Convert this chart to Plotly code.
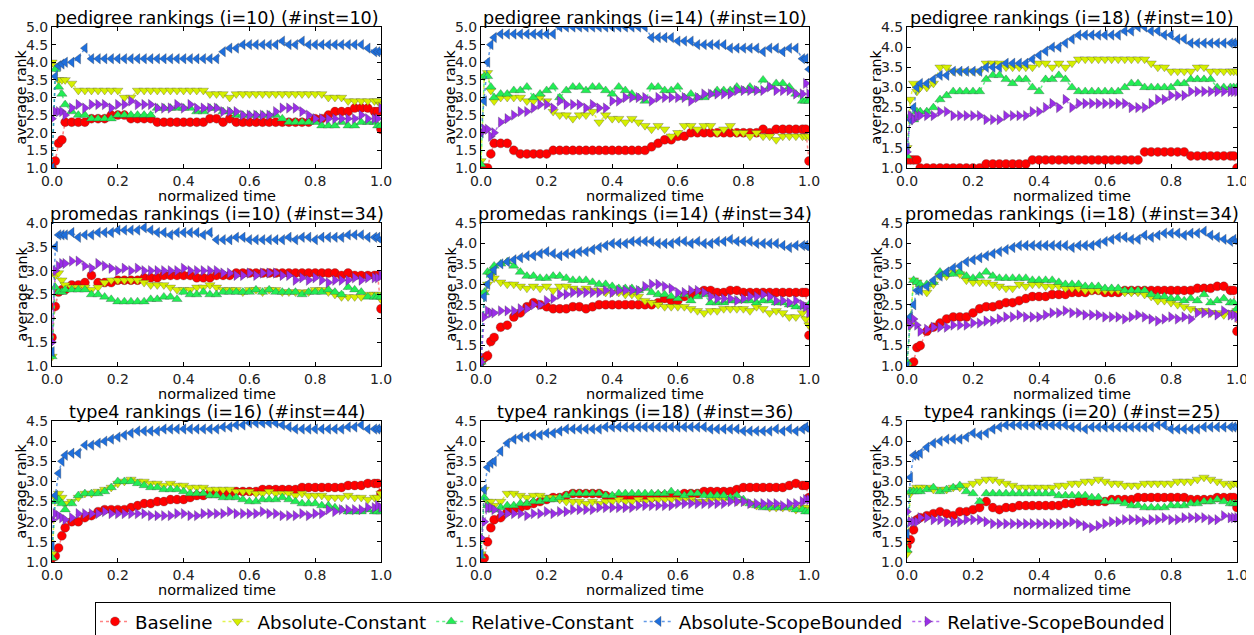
import plotly.graph_objects as go

# ---------------- data ----------------
T = [0.0, 0.01, 0.02, 0.03, 0.04,
     0.06, 0.08, 0.10, 0.12, 0.14, 0.16, 0.18, 0.20, 0.22, 0.24,
     0.26, 0.28, 0.30, 0.32, 0.34, 0.36, 0.38, 0.40, 0.42, 0.44,
     0.46, 0.48, 0.50, 0.52, 0.54, 0.56, 0.58, 0.60, 0.62, 0.64,
     0.66, 0.68, 0.70, 0.72, 0.74, 0.76, 0.78, 0.80, 0.82, 0.84,
     0.86, 0.88, 0.90, 0.92, 0.94, 0.96, 0.98, 0.99, 1.0]

SERIES = ["Baseline", "Absolute-Constant", "Relative-Constant",
          "Absolute-ScopeBounded", "Relative-ScopeBounded"]

TITLES = ["pedigree rankings (i=10) (#inst=10)", "pedigree rankings (i=14) (#inst=10)",
          "pedigree rankings (i=18) (#inst=10)", "promedas rankings (i=10) (#inst=34)",
          "promedas rankings (i=14) (#inst=34)", "promedas rankings (i=18) (#inst=34)",
          "type4 rankings (i=16) (#inst=44)", "type4 rankings (i=18) (#inst=36)",
          "type4 rankings (i=20) (#inst=25)"]
YMAX = [5.0, 5.0, 4.5, 4.0, 4.5, 4.5, 4.5, 4.5, 4.5]
X_TICKS = [0.0, 0.2, 0.4, 0.6, 0.8, 1.0]

# pedigree i=10
p1_base = [1.0,1.2,1.7,1.8,2.3, 2.3,2.3,2.3,2.4,2.4,2.4,2.5,2.5,2.5,2.4, 2.4,2.4,2.4,2.3,2.3,2.3,2.3,2.3,2.3,2.3, 2.3,2.4,2.4,2.3,2.4,2.3,2.3,2.3,2.3,2.3, 2.3,2.3,2.3,2.3,2.3,2.3,2.3,2.4,2.4,2.5, 2.6,2.6,2.6,2.7,2.7,2.7,2.6,2.6,2.1]
p1_absc = [4.0,3.9,3.5,3.5,3.5, 3.4,3.2,3.2,3.2,3.2,3.2,3.2,3.2,3.0,3.0, 3.2,3.2,3.2,3.2,3.2,3.2,3.2,3.2,3.2,3.2, 3.2,3.1,3.1,3.1,3.0,3.1,3.1,3.1,3.1,3.1, 3.1,3.1,3.1,3.1,3.1,3.1,3.1,3.1,3.1,3.0, 3.0,3.0,2.9,2.9,2.9,2.9,2.9,2.9,2.8]
p1_relc = [1.0,3.8,3.3,3.1,2.8, 2.6,2.5,2.5,2.4,2.4,2.4,2.4,2.5,2.5,2.5, 2.5,2.5,2.5,2.7,2.7,2.7,2.7,2.7,2.7,2.6, 2.6,2.7,2.7,2.6,2.6,2.5,2.5,2.5,2.5,2.5, 2.5,2.5,2.4,2.3,2.3,2.3,2.3,2.3,2.2,2.2, 2.2,2.3,2.2,2.2,2.3,2.3,2.3,2.2,2.2]
p1_abss = [1.0,3.6,3.9,3.95,4.0, 4.0,4.1,4.4,4.1,4.1,4.1,4.1,4.1,4.1,4.1, 4.1,4.1,4.1,4.1,4.1,4.1,4.1,4.1,4.1,4.1, 4.1,4.1,4.1,4.3,4.4,4.4,4.5,4.5,4.5,4.5, 4.5,4.5,4.6,4.5,4.5,4.6,4.5,4.5,4.5,4.5, 4.5,4.5,4.5,4.5,4.5,4.4,4.3,4.3,4.3]
p1_rels = [2.4,2.6,2.6,2.6,2.5, 2.7,2.8,2.7,2.8,2.8,2.8,2.7,2.8,2.8,2.9, 2.8,2.8,2.8,2.7,2.7,2.7,2.8,2.7,2.8,2.7, 2.7,2.7,2.7,2.6,2.6,2.6,2.5,2.5,2.5,2.5, 2.5,2.6,2.7,2.7,2.7,2.6,2.5,2.4,2.4,2.4, 2.4,2.4,2.4,2.4,2.5,2.4,2.4,2.4,2.7]

# pedigree i=14
p2_base = [1.0,1.0,1.0,1.4,1.7, 1.7,1.7,1.5,1.4,1.4,1.4,1.4,1.4,1.5,1.5, 1.5,1.5,1.5,1.5,1.5,1.5,1.5,1.5,1.5,1.5, 1.5,1.5,1.5,1.6,1.7,1.8,1.8,1.9,1.9,2.0, 2.0,2.0,2.0,2.0,2.0,2.0,2.0,2.0,2.0,2.0, 2.1,2.0,2.1,2.1,2.1,2.1,2.1,2.1,1.2]
p2_absc = [1.2,3.6,3.7,3.2,2.9, 3.0,3.0,3.0,3.0,2.9,2.9,3.0,2.9,2.6,2.5, 2.5,2.4,2.5,2.5,2.6,2.3,2.5,2.4,2.4,2.3, 2.4,2.3,2.2,2.1,2.2,2.1,1.9,2.0,2.2,2.2, 2.1,2.2,2.2,2.0,2.1,2.2,2.0,2.0,1.9,2.0, 1.9,1.9,1.8,1.9,1.9,1.9,1.9,1.9,1.9]
p2_relc = [1.1,3.6,3.6,3.3,3.0, 3.1,3.1,3.2,3.2,3.3,3.0,3.1,3.2,3.3,3.0, 3.2,3.3,3.3,3.2,3.3,3.3,3.2,3.1,3.3,3.2, 3.1,3.0,2.9,3.3,3.3,3.2,3.2,3.3,3.0,3.1, 3.0,3.0,3.1,3.2,3.2,3.2,3.3,3.2,3.3,3.2, 3.5,3.3,3.4,3.4,3.3,3.1,2.9,2.9,2.9]
p2_abss = [2.0,2.9,4.0,4.5,4.7, 4.8,4.8,4.8,4.8,4.8,4.8,4.8,4.8,4.8,5.0, 5.0,5.0,5.0,5.0,5.0,5.0,5.0,5.0,5.0,5.0, 5.0,5.0,5.0,4.7,4.7,4.7,4.7,4.6,4.6,4.6, 4.5,4.5,4.5,4.5,4.5,4.4,4.4,4.4,4.4,4.4, 4.3,4.4,4.4,4.3,4.4,4.4,4.1,4.1,3.8]
p2_rels = [2.0,2.1,2.1,1.9,2.0, 2.3,2.4,2.5,2.6,2.6,2.7,2.8,2.8,2.7,2.9, 2.8,2.8,2.8,2.7,2.8,2.7,2.7,2.9,2.9,3.0, 3.0,3.0,3.0,2.9,3.0,3.0,3.0,3.0,3.0,2.9, 3.0,3.1,3.1,3.1,3.1,3.1,3.2,3.2,3.2,3.2, 3.2,3.3,3.2,3.2,3.2,3.1,3.1,3.4,3.1]

# pedigree i=18
p3_base = [1.2,1.2,1.2,1.2,1.0, 1.0,1.0,1.0,1.0,1.0,1.0,1.0,1.0,1.0,1.1, 1.1,1.1,1.1,1.1,1.1,1.1,1.2,1.2,1.2,1.2, 1.2,1.2,1.2,1.2,1.2,1.2,1.2,1.2,1.2,1.2, 1.2,1.2,1.2,1.4,1.4,1.4,1.4,1.4,1.4,1.4, 1.3,1.3,1.3,1.3,1.3,1.3,1.3,1.3,1.0]
p3_absc = [1.5,2.7,3.1,2.9,3.0, 3.0,3.1,3.5,3.5,3.4,3.4,3.4,3.4,3.4,3.6, 3.6,3.6,3.5,3.5,3.5,3.5,3.5,3.6,3.6,3.5, 3.6,3.5,3.6,3.7,3.7,3.7,3.7,3.7,3.7,3.7, 3.7,3.7,3.7,3.7,3.6,3.5,3.5,3.4,3.4,3.4, 3.4,3.5,3.5,3.4,3.4,3.4,3.4,3.4,3.4]
p3_relc = [1.3,2.3,2.2,2.4,2.4, 2.4,2.5,2.7,2.8,2.9,2.9,2.9,2.9,2.9,3.2, 3.3,3.3,3.2,3.1,3.2,3.2,3.0,2.9,3.2,3.2, 3.3,3.2,3.0,2.9,2.9,2.9,2.9,2.9,2.9,2.9, 3.0,3.1,3.1,3.0,3.0,3.0,3.0,3.0,3.1,3.1, 3.2,3.2,3.2,3.2,3.0,3.0,3.0,3.0,3.0]
p3_abss = [1.5,2.2,2.5,3.0,3.1, 3.1,3.2,3.3,3.3,3.4,3.4,3.4,3.4,3.4,3.5, 3.5,3.5,3.6,3.6,3.6,3.6,3.7,3.8,3.9,4.0, 4.0,4.1,4.2,4.3,4.3,4.3,4.3,4.3,4.3,4.3, 4.4,4.4,4.5,4.5,4.4,4.4,4.3,4.3,4.2,4.2, 4.1,4.1,4.1,4.1,4.1,4.1,4.1,4.1,4.1]
p3_rels = [1.4,2.3,2.2,2.3,2.3, 2.3,2.3,2.4,2.4,2.3,2.3,2.3,2.3,2.3,2.2, 2.2,2.2,2.3,2.3,2.3,2.3,2.4,2.4,2.5,2.6, 2.5,2.7,2.5,2.6,2.6,2.6,2.6,2.6,2.6,2.6, 2.6,2.5,2.5,2.5,2.6,2.7,2.7,2.8,2.8,2.8, 2.9,2.9,2.9,2.9,2.9,2.9,2.9,2.9,2.9]

# promedas i=10
p4_base = [1.6,2.25,2.55,2.6,2.6, 2.7,2.7,2.75,2.9,2.75,2.75,2.75,2.8,2.8,2.8, 2.8,2.85,2.85,2.85,2.9,2.9,2.9,2.9,2.9,2.85, 2.85,2.85,2.9,2.9,2.9,2.95,2.95,2.95,2.95,2.95, 2.95,2.95,2.95,2.95,2.95,2.95,2.95,2.95,2.95,2.95, 2.95,2.9,2.95,2.9,2.9,2.9,2.9,2.9,2.2]
p4_absc = [1.2,2.9,2.95,2.8,2.7, 2.65,2.65,2.65,2.6,2.65,2.75,2.8,2.8,2.8,2.8, 2.8,2.75,2.7,2.7,2.7,2.65,2.6,2.6,2.6,2.65, 2.65,2.7,2.65,2.6,2.6,2.6,2.55,2.6,2.6,2.55, 2.6,2.6,2.55,2.55,2.55,2.55,2.55,2.6,2.6,2.55, 2.5,2.45,2.45,2.45,2.45,2.5,2.5,2.5,2.4]
p4_relc = [1.2,2.65,2.55,2.55,2.6, 2.6,2.6,2.6,2.5,2.5,2.45,2.4,2.35,2.35,2.35, 2.35,2.35,2.4,2.4,2.45,2.45,2.4,2.55,2.5,2.5, 2.55,2.5,2.5,2.55,2.55,2.55,2.55,2.55,2.6,2.55, 2.6,2.55,2.55,2.55,2.55,2.5,2.55,2.55,2.55,2.6, 2.55,2.5,2.65,2.6,2.55,2.45,2.45,2.45,2.45]
p4_abss = [1.3,3.5,3.75,3.75,3.75, 3.8,3.7,3.75,3.75,3.8,3.8,3.8,3.85,3.85,3.85, 3.85,3.9,3.85,3.8,3.8,3.75,3.8,3.8,3.8,3.8, 3.75,3.8,3.65,3.65,3.65,3.7,3.7,3.65,3.65,3.65, 3.65,3.65,3.65,3.7,3.65,3.7,3.7,3.65,3.7,3.7, 3.7,3.7,3.75,3.75,3.75,3.7,3.7,3.7,3.65]
p4_rels = [1.5,3.0,3.1,3.15,3.15, 3.2,3.2,3.1,3.05,3.15,3.1,3.05,3.0,3.05,3.0, 3.05,3.0,3.0,3.0,3.0,3.0,3.0,3.05,3.0,3.0, 3.0,3.0,3.0,2.95,2.95,2.9,2.9,2.95,2.9,2.95, 2.95,2.95,2.9,2.9,2.8,2.85,2.8,2.85,2.8,2.75, 2.8,2.8,2.8,2.85,2.8,2.85,2.85,2.85,2.9]

# promedas i=14
p5_base = [1.1,1.2,1.25,1.6,1.7, 1.95,2.0,2.2,2.3,2.45,2.55,2.5,2.45,2.4,2.4, 2.4,2.45,2.45,2.4,2.45,2.5,2.5,2.5,2.5,2.5, 2.5,2.5,2.5,2.5,2.55,2.65,2.6,2.6,2.7,2.75, 2.8,2.85,2.85,2.8,2.8,2.85,2.85,2.8,2.8,2.8, 2.8,2.8,2.8,2.8,2.8,2.8,2.8,2.8,1.75]
p5_absc = [1.1,2.8,3.0,3.2,3.15, 3.05,3.0,3.0,2.95,2.9,2.95,2.9,2.95,2.85,2.95, 2.95,2.9,2.85,2.9,2.85,2.85,2.8,2.8,2.8,2.75, 2.75,2.7,2.6,2.55,2.5,2.45,2.45,2.45,2.45,2.4, 2.35,2.3,2.35,2.35,2.4,2.4,2.4,2.4,2.35,2.45, 2.4,2.3,2.35,2.3,2.2,2.2,2.3,2.15,2.0]
p5_relc = [1.1,2.8,3.3,3.3,3.45, 3.5,3.55,3.45,3.3,3.2,3.2,3.15,3.15,3.2,3.2, 3.15,3.1,3.1,3.1,3.05,3.0,3.0,2.95,2.9,2.9, 2.9,2.85,2.9,2.8,2.75,2.75,2.7,2.65,2.75,2.6, 2.7,2.75,2.55,2.55,2.55,2.6,2.6,2.6,2.6,2.55, 2.6,2.6,2.55,2.55,2.5,2.45,2.45,2.45,2.5]
p5_abss = [1.1,2.7,3.0,3.2,3.35, 3.5,3.55,3.6,3.65,3.7,3.7,3.75,3.8,3.75,3.7, 3.75,3.75,3.8,3.8,3.85,3.9,3.95,4.0,4.0,4.0, 4.05,4.05,4.05,4.05,4.0,4.0,4.0,4.05,4.05,4.0, 4.05,4.0,4.0,4.05,4.05,4.1,4.05,4.05,4.05,4.0, 4.0,4.0,4.0,3.95,3.9,3.95,3.95,3.95,3.9]
p5_rels = [1.1,2.2,2.35,2.3,2.3, 2.35,2.35,2.35,2.4,2.4,2.5,2.5,2.6,2.65,2.75, 2.75,2.8,2.8,2.8,2.8,2.8,2.85,2.8,2.85,2.85, 2.85,2.85,2.95,3.0,3.0,2.95,2.9,2.8,2.8,2.85, 2.85,2.8,2.7,2.65,2.65,2.65,2.6,2.65,2.7,2.7, 2.75,2.7,2.6,2.6,2.55,2.6,2.5,2.45,2.3]

# promedas i=18
p6_base = [1.0,1.05,1.1,1.45,1.5, 1.85,1.95,2.05,2.15,2.2,2.2,2.2,2.3,2.4,2.45, 2.45,2.5,2.55,2.55,2.6,2.65,2.7,2.7,2.7,2.75, 2.75,2.75,2.8,2.8,2.8,2.85,2.85,2.8,2.8,2.8, 2.85,2.85,2.85,2.85,2.85,2.85,2.85,2.85,2.85,2.85, 2.85,2.9,2.9,2.9,2.95,2.95,2.85,2.85,1.85]
p6_absc = [1.0,2.0,3.1,3.05,2.95, 2.8,3.0,3.2,3.2,3.3,3.25,3.1,3.05,3.05,3.05, 3.0,2.95,2.9,2.9,3.0,2.95,3.0,3.0,2.95,2.95, 2.95,2.9,2.9,2.9,2.85,2.85,2.85,2.85,2.85,2.85, 2.8,2.8,2.8,2.75,2.7,2.6,2.6,2.55,2.5,2.45, 2.4,2.35,2.35,2.3,2.3,2.25,2.3,2.3,2.35]
p6_relc = [1.1,2.2,3.1,3.05,3.0, 3.0,3.05,3.3,3.25,3.25,3.3,3.2,3.15,3.2,3.3, 3.2,3.15,3.15,3.15,3.15,3.15,3.1,3.1,3.1,3.1, 3.05,3.0,3.0,3.0,2.95,2.95,2.95,2.9,2.9,2.9, 2.85,2.85,2.85,2.85,2.75,2.7,2.7,2.65,2.65,2.6, 2.65,2.6,2.75,2.55,2.6,2.65,2.55,2.55,2.4]
p6_abss = [1.0,2.2,2.5,2.85,2.85, 2.95,3.1,3.2,3.3,3.4,3.45,3.55,3.6,3.65,3.7, 3.75,3.8,3.85,3.9,3.95,3.95,3.95,3.95,3.95,3.95, 3.95,3.95,3.9,3.95,3.95,3.95,4.0,4.05,4.1,4.15, 4.15,4.1,4.1,4.2,4.15,4.2,4.25,4.25,4.25,4.2, 4.25,4.25,4.3,4.2,4.15,4.1,4.05,4.1,4.05]
p6_rels = [2.1,2.0,2.15,2.0,1.85, 1.9,1.95,1.95,1.95,2.0,2.0,2.0,2.05,2.05,2.1, 2.1,2.15,2.2,2.2,2.25,2.2,2.2,2.2,2.25,2.3, 2.3,2.35,2.3,2.3,2.25,2.25,2.25,2.2,2.2,2.2, 2.15,2.2,2.25,2.2,2.15,2.1,2.15,2.2,2.15,2.2, 2.15,2.3,2.3,2.3,2.25,2.35,2.25,2.25,2.2]

# type4 i=16
p7_base = [1.1,1.15,1.35,1.65,1.85, 2.0,2.0,2.1,2.15,2.25,2.3,2.3,2.3,2.3,2.35, 2.4,2.45,2.45,2.5,2.5,2.55,2.55,2.55,2.6,2.65, 2.65,2.7,2.7,2.7,2.7,2.75,2.75,2.75,2.75,2.8, 2.8,2.8,2.8,2.8,2.8,2.85,2.85,2.85,2.85,2.85, 2.85,2.85,2.9,2.9,2.9,2.95,2.95,2.95,2.7]
p7_absc = [1.2,2.6,2.7,2.6,2.45, 2.5,2.6,2.7,2.7,2.75,2.8,2.85,2.95,3.0,3.05, 3.0,3.0,2.95,2.95,2.9,2.95,2.9,2.9,2.85,2.85, 2.85,2.8,2.8,2.8,2.8,2.75,2.75,2.75,2.7,2.7, 2.75,2.7,2.7,2.7,2.65,2.7,2.65,2.65,2.65,2.6, 2.6,2.6,2.65,2.6,2.6,2.55,2.6,2.6,2.7]
p7_relc = [1.1,2.5,2.55,2.45,2.3, 2.45,2.65,2.7,2.7,2.7,2.75,2.85,3.0,3.0,3.0, 2.95,2.9,2.85,2.85,2.8,2.8,2.8,2.75,2.7,2.7, 2.7,2.65,2.65,2.6,2.6,2.6,2.55,2.5,2.5,2.55, 2.55,2.55,2.6,2.55,2.5,2.45,2.45,2.45,2.4,2.4, 2.35,2.3,2.25,2.25,2.25,2.3,2.25,2.25,2.25]
p7_abss = [1.4,2.65,3.2,3.5,3.65, 3.7,3.7,3.9,3.9,3.95,4.0,4.05,4.1,4.15,4.2, 4.25,4.25,4.25,4.25,4.3,4.3,4.3,4.3,4.3,4.3, 4.3,4.3,4.3,4.35,4.35,4.4,4.4,4.45,4.45,4.45, 4.45,4.45,4.4,4.35,4.3,4.3,4.3,4.3,4.3,4.3, 4.3,4.3,4.35,4.35,4.4,4.3,4.3,4.3,4.3]
p7_rels = [2.05,2.2,2.15,2.1,2.05, 2.1,2.2,2.2,2.2,2.2,2.25,2.2,2.2,2.2,2.2, 2.2,2.2,2.15,2.15,2.15,2.15,2.2,2.2,2.15,2.15, 2.2,2.2,2.2,2.2,2.25,2.2,2.2,2.2,2.2,2.25, 2.2,2.2,2.15,2.15,2.15,2.2,2.15,2.2,2.2,2.3, 2.25,2.3,2.3,2.3,2.3,2.35,2.35,2.4,2.35]

# type4 i=18
p8_base = [1.1,1.1,1.5,1.85,2.05, 2.1,2.25,2.3,2.35,2.4,2.45,2.5,2.55,2.6,2.6, 2.65,2.7,2.7,2.7,2.7,2.7,2.65,2.6,2.6,2.6, 2.6,2.6,2.6,2.6,2.65,2.65,2.65,2.65,2.7,2.7, 2.7,2.75,2.75,2.75,2.75,2.75,2.8,2.85,2.85,2.85, 2.85,2.85,2.85,2.85,2.9,2.95,2.9,2.9,2.6]
p8_absc = [1.2,2.8,2.5,2.5,2.4, 2.5,2.7,2.7,2.65,2.6,2.65,2.65,2.6,2.6,2.55, 2.5,2.5,2.5,2.45,2.5,2.45,2.5,2.5,2.55,2.5, 2.5,2.55,2.5,2.55,2.55,2.55,2.55,2.55,2.55,2.55, 2.5,2.5,2.55,2.55,2.55,2.55,2.5,2.5,2.45,2.4, 2.4,2.35,2.35,2.35,2.35,2.3,2.35,2.35,2.3]
p8_relc = [1.15,2.6,2.4,2.3,2.3, 2.35,2.4,2.4,2.45,2.45,2.5,2.5,2.55,2.55,2.6, 2.65,2.7,2.7,2.7,2.7,2.7,2.65,2.65,2.7,2.7, 2.7,2.7,2.7,2.7,2.7,2.7,2.75,2.7,2.65,2.7, 2.7,2.65,2.65,2.65,2.65,2.6,2.65,2.55,2.45,2.4, 2.35,2.35,2.35,2.35,2.35,2.3,2.3,2.25,2.25]
p8_abss = [1.2,2.8,3.35,3.45,3.5, 3.75,3.95,4.05,4.1,4.1,4.15,4.15,4.2,4.2,4.25, 4.3,4.3,4.3,4.3,4.3,4.3,4.35,4.35,4.35,4.35, 4.35,4.35,4.35,4.35,4.35,4.35,4.35,4.35,4.35,4.35, 4.35,4.35,4.3,4.3,4.3,4.3,4.3,4.25,4.25,4.25, 4.25,4.25,4.3,4.25,4.3,4.25,4.3,4.35,4.3]
p8_rels = [1.6,2.0,2.35,2.35,2.3, 2.2,2.2,2.2,2.2,2.15,2.2,2.2,2.25,2.2,2.25, 2.25,2.3,2.3,2.3,2.3,2.35,2.35,2.35,2.35,2.35, 2.35,2.4,2.4,2.4,2.4,2.4,2.4,2.45,2.45,2.45, 2.45,2.45,2.45,2.45,2.45,2.5,2.5,2.5,2.45,2.45, 2.45,2.45,2.45,2.4,2.45,2.45,2.5,2.55,2.55]

# type4 i=20
p9_base = [1.4,1.55,1.8,2.05,2.1, 2.15,2.2,2.25,2.2,2.15,2.25,2.25,2.3,2.35,2.5, 2.35,2.3,2.35,2.35,2.4,2.4,2.4,2.4,2.4,2.4, 2.4,2.45,2.45,2.5,2.5,2.5,2.5,2.5,2.55,2.55, 2.55,2.55,2.6,2.6,2.6,2.6,2.6,2.6,2.6,2.6, 2.55,2.55,2.55,2.55,2.6,2.6,2.6,2.6,2.35]
p9_absc = [1.2,2.7,2.8,2.85,2.85, 2.85,2.8,2.8,2.8,2.85,2.85,2.9,2.95,3.0,3.05, 3.05,3.0,2.95,2.9,2.85,2.85,2.85,2.85,2.85,2.85, 2.9,2.9,2.95,2.95,3.0,3.0,3.05,3.0,2.95,2.95, 2.9,2.9,2.9,2.95,2.95,2.95,2.95,2.95,3.0,3.0, 3.0,3.05,3.1,3.05,3.0,2.95,2.9,2.95,2.95]
p9_relc = [1.3,2.75,2.75,2.75,2.75, 2.8,2.85,2.75,2.8,2.85,2.9,2.75,2.7,2.5,2.7, 2.7,2.7,2.7,2.7,2.7,2.7,2.7,2.7,2.7,2.7, 2.65,2.65,2.65,2.65,2.65,2.6,2.6,2.5,2.5,2.5, 2.45,2.4,2.4,2.35,2.35,2.35,2.35,2.4,2.4,2.4, 2.45,2.45,2.5,2.5,2.55,2.5,2.45,2.45,2.45]
p9_abss = [1.7,3.1,3.65,3.65,3.7, 3.85,3.95,4.0,4.05,4.05,4.05,4.1,4.2,4.15,4.2, 4.3,4.35,4.4,4.4,4.4,4.4,4.4,4.4,4.4,4.4, 4.4,4.4,4.35,4.35,4.3,4.35,4.35,4.35,4.35,4.35, 4.35,4.35,4.35,4.35,4.35,4.4,4.4,4.3,4.3,4.3, 4.3,4.3,4.35,4.35,4.35,4.35,4.35,4.35,4.35]
p9_rels = [2.25,2.0,2.0,2.0,2.1, 2.1,2.05,2.05,2.0,2.0,2.0,2.05,2.05,2.05,2.0, 1.95,1.95,1.95,1.95,1.95,1.95,1.95,1.95,1.95,1.95, 1.95,1.95,2.0,1.95,1.9,1.85,1.9,1.95,2.0,2.0, 2.05,2.05,2.05,2.0,2.05,2.05,2.1,2.05,2.05,2.1, 2.1,2.1,2.1,2.05,2.05,2.15,2.1,2.1,2.1]

PANELS = [
    [p1_base, p1_absc, p1_relc, p1_abss, p1_rels],
    [p2_base, p2_absc, p2_relc, p2_abss, p2_rels],
    [p3_base, p3_absc, p3_relc, p3_abss, p3_rels],
    [p4_base, p4_absc, p4_relc, p4_abss, p4_rels],
    [p5_base, p5_absc, p5_relc, p5_abss, p5_rels],
    [p6_base, p6_absc, p6_relc, p6_abss, p6_rels],
    [p7_base, p7_absc, p7_relc, p7_abss, p7_rels],
    [p8_base, p8_absc, p8_relc, p8_abss, p8_rels],
    [p9_base, p9_absc, p9_relc, p9_abss, p9_rels],
]
for pi, panel in enumerate(PANELS):
    for si, s in enumerate(panel):
        assert len(s) == len(T), (pi, si, len(s))

# ---------------- style ----------------
FONT = "DejaVu Sans"
# the page body has an 8px default margin, so the figure is drawn 8px smaller
# and every pixel position below is (reference position - 8)
W, H = 1246, 627
MARK_COLORS = ["#ff0000", "#d6f000", "#22ee55", "#1f6fdc", "#9a2ee8"]
LINE_COLORS = ["rgba(255,80,80,0.7)", "rgba(214,240,0,0.7)", "rgba(34,238,85,0.7)",
               "rgba(31,111,220,0.7)", "rgba(154,46,232,0.7)"]
SYMBOLS = ["circle", "triangle-down", "triangle-up", "triangle-left", "triangle-right"]

COL_X = [(44, 373), (473, 801), (899, 1229)]
ROW_Y = [(19, 160), (215, 358), (413, 554)]

fig = go.Figure()
annotations = []
layout_axes = {}
for k in range(9):
    r, c = divmod(k, 3)
    x0, x1 = COL_X[c]
    yt, yb = ROW_Y[r]
    dx = [x0 / W, x1 / W]
    dy = [1 - yb / H, 1 - yt / H]
    n = k + 1
    xa = "x" if n == 1 else f"x{n}"
    ya = "y" if n == 1 else f"y{n}"
    for si, name in enumerate(SERIES):
        fig.add_trace(go.Scatter(
            x=T, y=PANELS[k][si], mode="lines+markers", name=name,
            legendgroup=name, showlegend=(k == 0),
            xaxis=xa, yaxis=ya,
            line=dict(color=LINE_COLORS[si], width=1.5, dash="dot"),
            marker=dict(symbol=SYMBOLS[si], size=9, color=MARK_COLORS[si],
                        line=dict(color="rgba(60,60,60,0.6)", width=0.5)),
        ))
    axcommon = dict(showline=True, linecolor="black", linewidth=1, mirror="ticks",
                    ticks="inside", ticklen=4, tickcolor="black", showgrid=False,
                    zeroline=False, automargin=False,
                    tickfont=dict(family=FONT, size=14, color="#222"))
    layout_axes["xaxis" if n == 1 else f"xaxis{n}"] = dict(
        domain=dx, anchor=ya, range=[0, 1], tickvals=X_TICKS, tickformat=".1f", **axcommon)
    layout_axes["yaxis" if n == 1 else f"yaxis{n}"] = dict(
        domain=dy, anchor=xa, range=[1.0, YMAX[k]], dtick=0.5, tick0=1.0,
        tickformat=".1f", **axcommon)
    annotations.append(dict(text=TITLES[k], xref="paper", yref="paper",
                            x=(dx[0] + dx[1]) / 2, y=dy[1], xanchor="center", yanchor="bottom",
                            yshift=-2, borderpad=0, showarrow=False,
                            font=dict(family=FONT, size=17.6, color="black")))
    annotations.append(dict(text="normalized time", xref="paper", yref="paper",
                            x=(dx[0] + dx[1]) / 2, y=dy[0], xanchor="center", yanchor="top",
                            yshift=-18, showarrow=False,
                            font=dict(family=FONT, size=14.5, color="black")))
    annotations.append(dict(text="average rank", xref="paper", yref="paper",
                            x=dx[0], y=(dy[0] + dy[1]) / 2, xanchor="center", yanchor="middle",
                            xshift=-31, textangle=-90, showarrow=False,
                            font=dict(family=FONT, size=14.2, color="black")))

fig.update_layout(
    template="none",
    width=W, height=H, margin=dict(l=0, r=0, t=0, b=0, autoexpand=False),
    paper_bgcolor="white", plot_bgcolor="white",
    font=dict(family=FONT, color="black"),
    annotations=annotations,
    legend=dict(orientation="h", x=(95 - 8) / W, xanchor="left", y=1 - 594 / H, yanchor="top",
                bordercolor="black", borderwidth=1, bgcolor="white",
                font=dict(family=FONT, size=18.3, color="black"),
                itemwidth=30, tracegroupgap=0),
    **layout_axes,
)

fig.write_html("out.html")
